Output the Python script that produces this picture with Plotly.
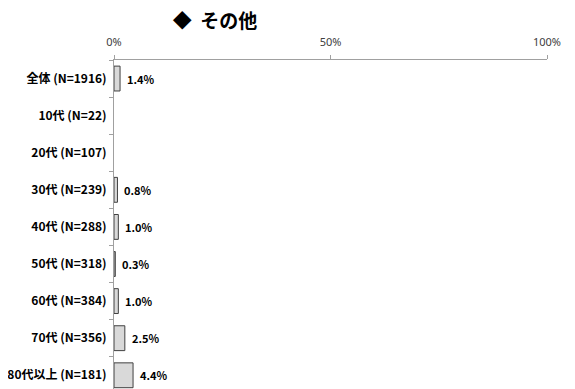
import plotly.graph_objects as go

# data
groups = ["全体 (N=1916)", "10代 (N=22)", "20代 (N=107)", "30代 (N=239)", "40代 (N=288)",
          "50代 (N=318)", "60代 (N=384)", "70代 (N=356)", "80代以上 (N=181)"]
values = [1.4, 0.0, 0.0, 0.8, 1.0, 0.3, 1.0, 2.5, 4.4]
x_ticks = [0, 50, 100]
x_tick_labels = ["0%", "50%", "100%"]

label_font = dict(family="Noto Sans CJK JP", size=11, color="black")

fig = go.Figure()
fig.add_trace(go.Bar(
    y=groups, x=values, orientation="h", width=0.67,
    # no outline on empty bars so the axis line stays plain grey
    marker=dict(color="#d9d9d9",
                line=dict(color="#404040", width=[1 if v > 0 else 0 for v in values])),
    hoverinfo="skip",
))

# value labels just right of each bar (empty groups get none)
for g, v in zip(groups, values):
    if v > 0:
        fig.add_annotation(x=v, y=g, text=f"<b>{v:.1f}%</b>", showarrow=False,
                           xanchor="left", xshift=5, font=label_font)

# the page body keeps its default 8px margin, so the figure is 8px smaller
fig.update_layout(
    width=567, height=381,
    margin=dict(l=106, r=28, t=52, b=0),
    plot_bgcolor="white", paper_bgcolor="white",
    showlegend=False,
    title=dict(text="<b>◆&nbsp;&nbsp;その他</b>", x=0.365, xanchor="center", y=0.966, yanchor="middle",
               font=dict(family="Noto Sans CJK JP", size=19, color="black")),
    xaxis=dict(side="top", range=[0, 100], tickvals=x_ticks, ticktext=x_tick_labels,
               showgrid=False, zeroline=False, showline=True, linecolor="#a0a0a0",
               ticks="outside", ticklen=4, tickcolor="#a0a0a0", automargin=False,
               ticklabelstandoff=5,
               tickfont=dict(family="Noto Sans", size=11, color="#404040")),
    yaxis=dict(type="category", range=[8.37, -0.5], tickson="boundaries",
               showgrid=False, zeroline=False, showline=True, linecolor="#a0a0a0",
               ticks="outside", ticklen=4, tickcolor="#a0a0a0", automargin=False,
               ticklabelstandoff=4,
               tickfont=dict(family="Noto Sans CJK JP", size=12, color="black"),
               tickprefix="<b>", ticksuffix="</b>"),
)

fig.write_html("out.html")
